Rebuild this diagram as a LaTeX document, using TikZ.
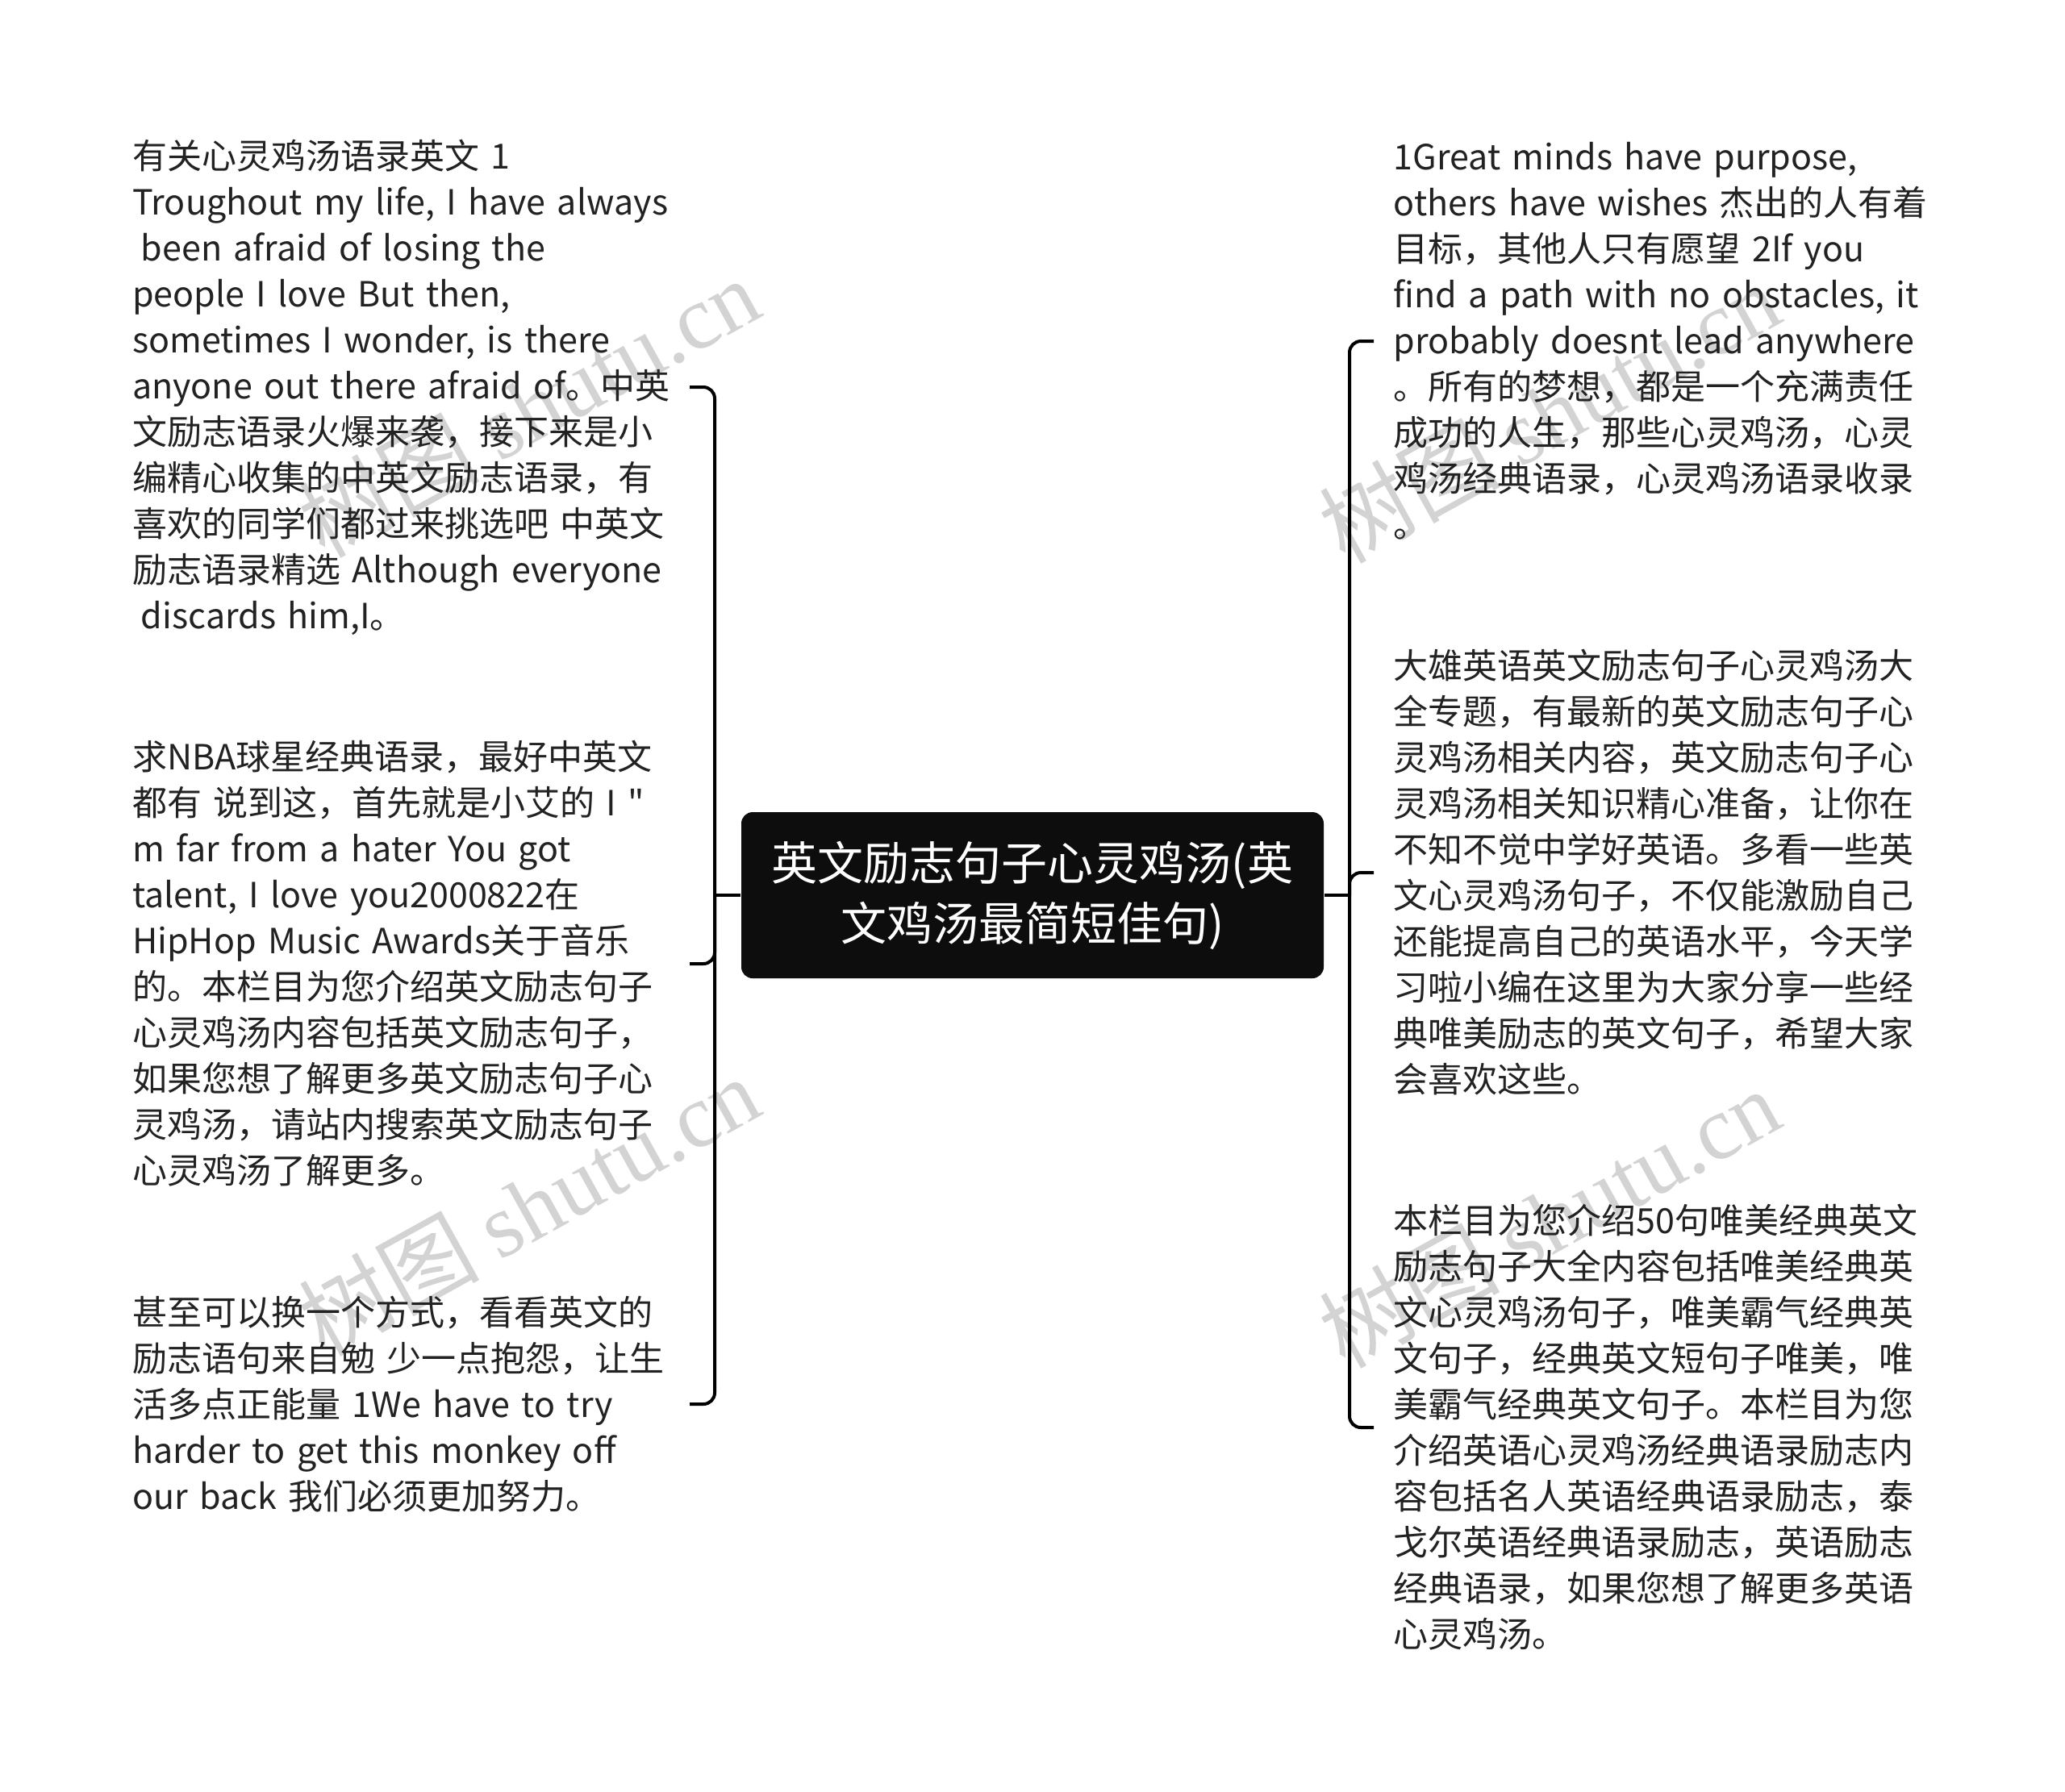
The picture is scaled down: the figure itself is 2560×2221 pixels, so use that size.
\documentclass[tikz,border=0pt]{standalone}
\usepackage{fontspec}
\setmainfont{Noto Sans CJK SC}
\newfontfamily\qfont{Noto Sans CJK SC}
\newfontfamily\wmserif{Liberation Serif}
\definecolor{txt}{RGB}{34,34,34}
\definecolor{rootfill}{RGB}{13,13,13}
\definecolor{wm}{RGB}{200,200,200}
\tikzset{
  leaf/.style={inner xsep=0pt, inner ysep=0pt, align=left, text width=172.5pt,
    text=txt, font=\fontsize{10.75pt}{14.25pt}\selectfont},
  rleaf/.style={leaf, inner xsep=6pt, text width=175pt},
  rootbox/.style={fill=rootfill, rounded corners=3.5pt, minimum width=180.5pt,
    minimum height=51.5pt, text=white, align=center, inner sep=0pt,
    font=\fontsize{14.25pt}{18.75pt}\selectfont},
  link/.style={draw=black, line width=1pt, rounded corners=3.5pt},
  wmark/.style={text=wm, rotate=29, font=\fontsize{28pt}{28pt}\selectfont, opacity=0.8}
}
\begin{document}
\begin{tikzpicture}[x=0.25pt,y=-0.25pt]
\useasboundingbox (0,0) rectangle (2560,2221);
% watermarks
\node[wmark] (wm1) at (655,505) {树图 {\wmserif shutu.cn}};
\node[wmark] (wm2) at (655,1495) {树图 {\wmserif shutu.cn}};
\node[wmark] (wm3) at (1920,512) {树图 {\wmserif shutu.cn}};
\node[wmark] (wm4) at (1920,1510) {树图 {\wmserif shutu.cn}};
% root
\node[rootbox] (root) at (1280,1110) {英文励志句子心灵鸡汤(英\\文鸡汤最简短佳句)};
\coordinate (Ls) at (886,1110);
\coordinate (Rs) at (1673,1110);
% left leaves
\node[leaf, anchor=east] (c1) at (855,480) {有关心灵鸡汤语录英文 1\\
Troughout my life, I have always\\
\hspace*{0.25em}been afraid of losing the\\
people I love But then,\\
sometimes I wonder, is there\\
anyone out there afraid of。中英\\
文励志语录火爆来袭，接下来是小\\
编精心收集的中英文励志语录，有\\
喜欢的同学们都过来挑选吧 中英文\\
励志语录精选 Although everyone\\
\hspace*{0.25em}discards him,I。};
\node[leaf, anchor=east] (c2) at (855,1195) {求NBA球星经典语录，最好中英文\\
都有 说到这，首先就是小艾的 I {\qfont"}\\
m far from a hater You got\\
talent, I love you2000822在\\
HipHop Music Awards关于音乐\\
的。本栏目为您介绍英文励志句子\\
心灵鸡汤内容包括英文励志句子，\\
如果您想了解更多英文励志句子心\\
灵鸡汤，请站内搜索英文励志句子\\
心灵鸡汤了解更多。};
\node[leaf, anchor=east] (c3) at (855,1741) {甚至可以换一个方式，看看英文的\\
励志语句来自勉 少一点抱怨，让生\\
活多点正能量 1We have to try\\
harder to get this monkey off\\
our back 我们必须更加努力。};
% right leaves
\node[rleaf, anchor=west] (r1) at (1703,423) {1Great minds have purpose,\\
others have wishes 杰出的人有着\\
目标，其他人只有愿望 2If you\\
find a path with no obstacles, it\\
probably doesnt lead anywhere\\
。所有的梦想，都是一个充满责任\\
成功的人生，那些心灵鸡汤，心灵\\
鸡汤经典语录，心灵鸡汤语录收录\\
。};
\node[rleaf, anchor=west] (r2) at (1703,1082) {大雄英语英文励志句子心灵鸡汤大\\
全专题，有最新的英文励志句子心\\
灵鸡汤相关内容，英文励志句子心\\
灵鸡汤相关知识精心准备，让你在\\
不知不觉中学好英语。多看一些英\\
文心灵鸡汤句子，不仅能激励自己\\
还能提高自己的英语水平，今天学\\
习啦小编在这里为大家分享一些经\\
典唯美励志的英文句子，希望大家\\
会喜欢这些。};
\node[rleaf, anchor=west] (r3) at (1703,1770) {本栏目为您介绍50句唯美经典英文\\
励志句子大全内容包括唯美经典英\\
文心灵鸡汤句子，唯美霸气经典英\\
文句子，经典英文短句子唯美，唯\\
美霸气经典英文句子。本栏目为您\\
介绍英语心灵鸡汤经典语录励志内\\
容包括名人英语经典语录励志，泰\\
戈尔英语经典语录励志，英语励志\\
经典语录，如果您想了解更多英语\\
心灵鸡汤。};
% connectors
\draw[link] (root.west) -- (Ls);
\draw[link] (root.east) -- (Rs);
\draw[link] (Ls) |- (c1.east);
\draw[link] (Ls) |- (c2.east);
\draw[link] (Ls) |- (c3.east);
\draw[link] (Rs) |- (r1.west);
\draw[link] (Rs) |- (r2.west);
\draw[link] (Rs) |- (r3.west);
\end{tikzpicture}
\end{document}
